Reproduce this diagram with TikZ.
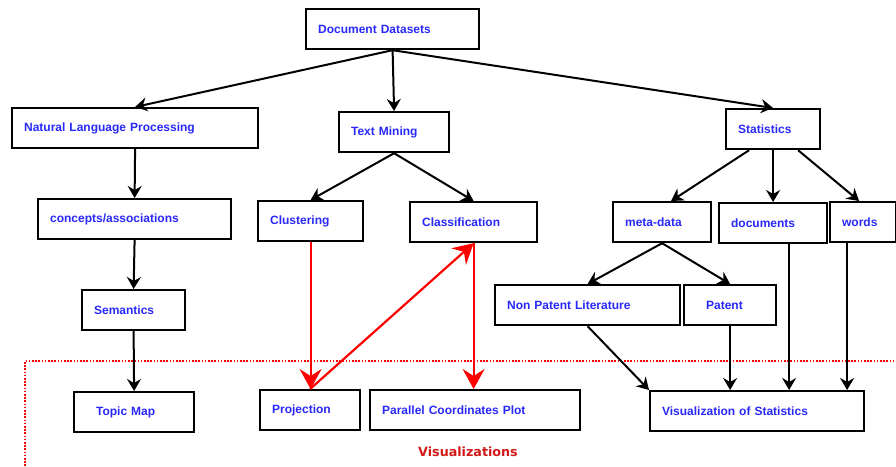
\documentclass[tikz,border=0pt]{standalone}
\usepackage{fontspec}
\setmainfont{Liberation Sans}
\newfontfamily\vislabelfont{DejaVu Sans}
\usetikzlibrary{arrows.meta}
\definecolor{txtblue}{RGB}{40,40,250}
\definecolor{visred}{RGB}{210,25,25}

\begin{document}
\begin{tikzpicture}[x=1pt, y=-1pt, line width=2pt, >={Stealth[length=12pt,width=14pt,inset=4pt]},
      font=\fontsize{12}{14}\selectfont\bfseries,
      box/.style={draw, line width=2.2pt, anchor=north west, minimum height=40pt, inner xsep=12pt, text width=#1, align=left, text=txtblue},
      redarr/.style={->, red, line width=2.2pt, >={Stealth[length=20pt,width=22pt,inset=7pt]}}]
      \useasboundingbox (0,0) rectangle (896,466);
      \node[box=149pt] (dd) at (305,8) {Document Datasets};
      \node[box=222pt] (nlp) at (11,107) {Natural Language Processing};
      \node[box=86pt] (tm) at (338,111) {Text Mining};
      \node[box=70pt] (st) at (725,108) {Statistics};
      \node[box=169pt] (con) at (37,198) {concepts/associations};
      \node[box=81pt] (clu) at (257,200) {Clustering};
      \node[box=103pt] (cla) at (409,201) {Classification};
      \node[box=74pt] (meta) at (612,201) {meta-data};
      \node[box=84pt] (docs) at (718,202) {documents};
      \node[box=42pt] (words) at (829,201) {words};
      \node[box=161pt] (npl) at (494,284) {Non Patent Literature};
      \node[box=48pt, inner xsep=22pt] (pat) at (683,284) {Patent};
      \node[box=79pt] (sem) at (81,289) {Semantics};
      \node[box=76pt, inner xsep=22pt] (tmap) at (73,391) {Topic Map};
      \node[box=76pt] (proj) at (259,389) {Projection};
      \node[box=186pt] (pcp) at (369,389) {Parallel Coordinates Plot};
      \node[box=190pt] (vis) at (649,390) {Visualization of Statistics};
      \draw[red, line width=1.6pt, dash pattern=on 1.6pt off 1.6pt] (25,466) -- (25,361) -- (896,361);
      \node[text=visred, font=\vislabelfont\fontsize{12.7}{15}\selectfont\bfseries] (vlab) at (468,452) {Visualizations};
      \draw[->] (dd.south) -- (nlp.north); \draw[->] (dd.south) -- (tm.north); \draw[->] (dd.south) -- (st.north);
      \draw[->] (nlp.south) -- (con.north); \draw[->] (con.south) -- (sem.north); \draw[->] (sem.south) -- (tmap.north);
      \draw[->] (tm.south) -- (clu.north); \draw[->] (tm.south) -- (cla.north);
      \draw[->] ([xshift=-24pt]st.south) -- ([xshift=9pt]meta.north); \draw[->] (st.south) -- (docs.north); \draw[->] ([xshift=25pt]st.south) -- ([xshift=-4pt]words.north);
      \draw[->] (meta.south) -- (npl.north); \draw[->] (meta.south) -- (pat.north);
      \draw[->] (npl.south) -- (vis.north west); \draw[->] (pat.south) -- (pat.south |- vis.north);
      \draw[->] ([xshift=16pt]docs.south) -- ([xshift=16pt]docs.south |- vis.north);
      \draw[->] ([xshift=-16pt]words.south) -- ([xshift=-16pt]words.south |- vis.north);
      \draw[redarr] (clu.south) -- (clu.south |- proj.north);
      \draw[redarr] (proj.north) -- (cla.south);
      \draw[redarr] (cla.south) -- (cla.south |- pcp.north);
    \end{tikzpicture}
\end{document}
